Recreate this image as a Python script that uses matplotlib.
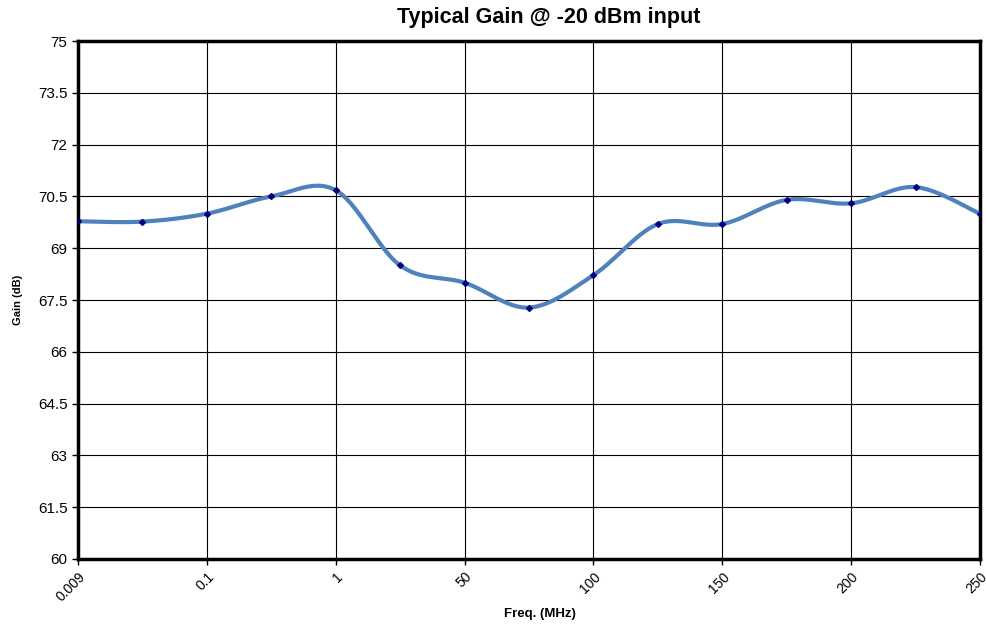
import numpy as np
import matplotlib.pyplot as plt

plt.rcParams['font.family'] = ['Liberation Sans', 'DejaVu Sans']

# data (one point every half category)
freq_labels = ['0.009', '0.1', '1', '50', '100', '150', '200', '250']
gain_db = [69.78, 69.77, 70.0, 70.5, 70.68, 68.5, 68.0, 67.28,
           68.22, 69.7, 69.7, 70.4, 70.3, 70.77, 70.0]
y_ticks = [60, 61.5, 63, 64.5, 66, 67.5, 69, 70.5, 72, 73.5, 75]


def smooth_line(x, y, steps=30):
    """Catmull-Rom curve through the points, like Excel's smoothed line"""
    x = np.asarray(x, float)
    y = np.asarray(y, float)
    px = np.concatenate([[x[0]], x, [x[-1]]])
    py = np.concatenate([[y[0]], y, [y[-1]]])
    xs, ys = [], []
    t = np.linspace(0, 1, steps)
    for i in range(1, len(px) - 2):
        for p, out in ((px, xs), (py, ys)):
            p0, p1, p2, p3 = p[i - 1], p[i], p[i + 1], p[i + 2]
            out.extend(0.5 * (2 * p1 + (-p0 + p2) * t
                              + (2 * p0 - 5 * p1 + 4 * p2 - p3) * t ** 2
                              + (-p0 + 3 * p1 - 3 * p2 + p3) * t ** 3))
    return np.array(xs), np.array(ys)


x_pos = np.arange(len(gain_db)) * 0.5

fig = plt.figure(figsize=(9.86, 6.29), dpi=100)
ax = fig.add_axes([0.0791, 0.1113, 0.9148, 0.8235])

sx, sy = smooth_line(x_pos, gain_db)
ax.plot(sx, sy, color='#4F81BD', linewidth=3, solid_capstyle='round', zorder=3)
ax.plot(x_pos, gain_db, linestyle='none', marker='D', markersize=3,
        color='#000080', zorder=4)

ax.set_xlim(0, len(freq_labels) - 1)
ax.set_ylim(60, 75)
ax.set_xticks(range(len(freq_labels)))
ax.set_xticklabels(freq_labels, rotation=45, ha='right', va='top',
                   rotation_mode='anchor', fontsize=10)
ax.set_yticks(y_ticks)
ax.set_yticklabels([f'{v:g}' for v in y_ticks], fontsize=11)
ax.grid(True, color='black', linewidth=0.8)
ax.set_axisbelow(True)
for spine in ax.spines.values():
    spine.set_linewidth(2.5)
ax.tick_params(axis='both', length=4, width=1, direction='out')

fig.text(549 / 986, 1 - 17 / 629, 'Typical Gain @ -20 dBm input',
         fontsize=15.5, fontweight='bold', ha='center', va='center')
ax.set_xlabel('Freq. (MHz)', fontsize=9.5, fontweight='bold')
ax.xaxis.set_label_coords((540 - 78) / 902, -(614 - 559) / 518)
ax.xaxis.label.set_va('center')
ax.set_ylabel('Gain (dB)', fontsize=8, fontweight='bold')
ax.yaxis.set_label_coords(-(78 - 18) / 902, 0.5)
ax.yaxis.label.set_va('center')

fig.savefig('out.png', dpi=100)
